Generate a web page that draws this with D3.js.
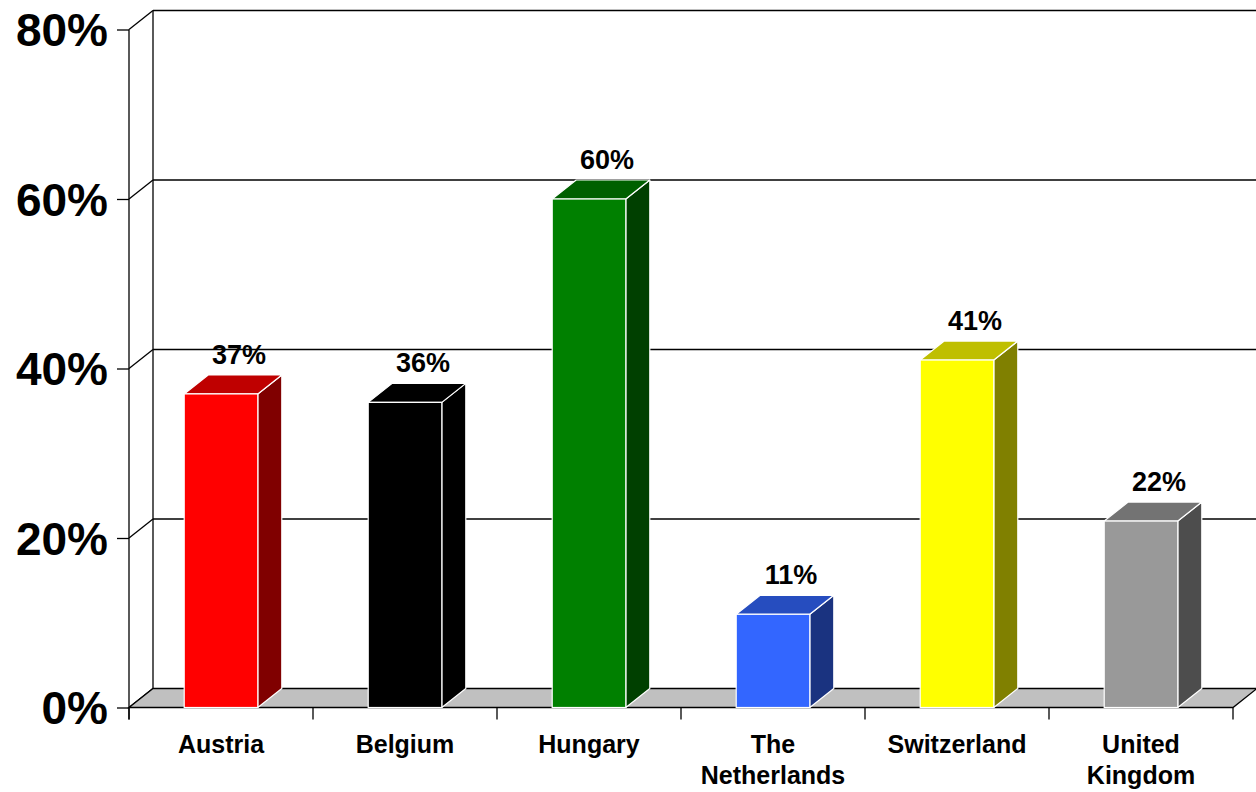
<!DOCTYPE html>
<html>
<head>
<meta charset="utf-8">
<script src="https://cdn.jsdelivr.net/npm/d3@7/dist/d3.min.js"></script>
<style>
  html, body { margin: 0; padding: 0; background: #fff; }
  svg { display: block; }
  text { font-family: "Liberation Sans", Arial, sans-serif; font-weight: bold; fill: #000; }
</style>
</head>
<body>
<svg id="chart" width="1256" height="792"></svg>
<script>
// ---- data ----
const categories = ["Austria", "Belgium", "Hungary", "The\nNetherlands", "Switzerland", "United\nKingdom"];
const values = [37, 36, 60, 11, 41, 22];
const yTicks = [0, 20, 40, 60, 80];

// ---- style ----
const palette = [
  { front: "#ff0000", top: "#bf0000", side: "#800000" },
  { front: "#000000", top: "#000000", side: "#000000" },
  { front: "#008000", top: "#006000", side: "#004000" },
  { front: "#3366ff", top: "#264dbf", side: "#1a3380" },
  { front: "#ffff00", top: "#bfbf00", side: "#808000" },
  { front: "#999999", top: "#737373", side: "#4d4d4d" }
];

const svg = d3.select("#chart");
const W = 1256;
const DX = 24, DY = -19;
const x0 = 129, x1 = 1233;

const y = d3.scaleLinear().domain([0, 80]).range([707.5, 29.5]);
const x = d3.scaleBand().domain(categories).range([x0, x1]).paddingInner(0.6).paddingOuter(0.3);
const xBand = d3.scaleBand().domain(categories).range([x0, x1]);

const g = svg.append("g");

// back wall vertical edge and top
g.append("line").attr("x1", x0 + DX).attr("x2", x0 + DX)
  .attr("y1", y(80) + DY).attr("y2", y(0) + DY)
  .attr("stroke", "#000").attr("stroke-width", 1.3);

// gridlines on back wall + left wall diagonals
yTicks.forEach(t => {
  if (t > 0) {
    g.append("line").attr("x1", x0 + DX).attr("x2", W)
      .attr("y1", y(t) + DY).attr("y2", y(t) + DY)
      .attr("stroke", "#000").attr("stroke-width", 1.3);
  }
  g.append("line").attr("x1", x0).attr("x2", x0 + DX)
    .attr("y1", y(t)).attr("y2", y(t) + DY)
    .attr("stroke", "#000").attr("stroke-width", 1.3);
});

// floor
const floorPts = [[x0, y(0)], [x0 + DX, y(0) + DY], [x1 + DX, y(0) + DY], [x1, y(0)]];
g.append("polygon").attr("points", floorPts.map(p => p.join(",")).join(" "))
  .attr("fill", "#c0c0c0").attr("stroke", "#000").attr("stroke-width", 1.3);

// front y axis line
g.append("line").attr("x1", x0).attr("x2", x0)
  .attr("y1", y(80)).attr("y2", y(0) + 12)
  .attr("stroke", "#000").attr("stroke-width", 1.3);

// y axis
const yAxis = d3.axisLeft(y).tickValues(yTicks).tickSize(12).tickFormat(d => d + "%");
const ya = g.append("g").attr("transform", `translate(${x0},0)`).call(yAxis);
ya.select(".domain").remove();
ya.selectAll(".tick line").attr("stroke", "#000").attr("stroke-width", 1.3);
ya.selectAll(".tick text").attr("x", -21).attr("dy", "0.35em")
  .style("font-size", "46px").style("font-family", "'Liberation Sans', Arial, sans-serif")
  .style("font-weight", "bold").attr("fill", "#000");

// category ticks
const boundaries = categories.map(c => xBand(c)).concat([x1]);
g.selectAll(".ctick").data(boundaries).enter().append("line")
  .attr("x1", d => d).attr("x2", d => d)
  .attr("y1", y(0)).attr("y2", y(0) + 12)
  .attr("stroke", "#000").attr("stroke-width", 1.3);

// bars
const bars = g.selectAll(".bar").data(values).enter().append("g");
bars.each(function(v, i) {
  const gb = d3.select(this);
  const c = categories[i];
  const bl = x(c), bw = x.bandwidth(), br = bl + bw;
  const yt = y(v), yb = y(0);
  const col = palette[i];
  const st = { stroke: "#fff", w: 1.2 };
  // side
  gb.append("polygon")
    .attr("points", [[br, yb], [br + DX, yb + DY], [br + DX, yt + DY], [br, yt]].map(p => p.join(",")).join(" "))
    .attr("fill", col.side).attr("stroke", st.stroke).attr("stroke-width", st.w).attr("stroke-linejoin", "round");
  // top
  gb.append("polygon")
    .attr("points", [[bl, yt], [bl + DX, yt + DY], [br + DX, yt + DY], [br, yt]].map(p => p.join(",")).join(" "))
    .attr("fill", col.top).attr("stroke", st.stroke).attr("stroke-width", st.w).attr("stroke-linejoin", "round");
  // front
  gb.append("rect").attr("x", bl).attr("y", yt).attr("width", bw).attr("height", yb - yt)
    .attr("fill", col.front).attr("stroke", st.stroke).attr("stroke-width", st.w);
  // value label
  gb.append("text").attr("x", bl + bw / 2 + 18).attr("y", yt + DY - 11)
    .attr("text-anchor", "middle").style("font-size", "27px").text(v + "%");
});

// category labels
const cl = g.selectAll(".clabel").data(categories).enter().append("text")
  .attr("text-anchor", "middle")
  .attr("transform", d => `translate(${xBand(d) + xBand.bandwidth() / 2},753)`)
  .style("font-size", "25px");
cl.each(function(d) {
  const lines = d.split("\n");
  lines.forEach((ln, k) => {
    d3.select(this).append("tspan").attr("x", 0).attr("y", k * 31).text(ln);
  });
});
</script>
</body>
</html>
